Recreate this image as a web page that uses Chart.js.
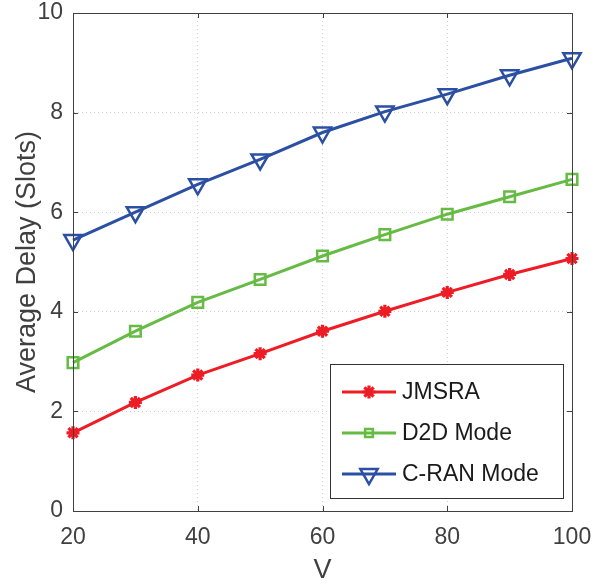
<!DOCTYPE html>
<html>
<head>
<meta charset="utf-8">
<script src="https://cdn.jsdelivr.net/npm/chart.js@4"></script>
<style>
  html, body { margin: 0; padding: 0; background: #fff; }
  #wrap { width: 611px; height: 584px; }
</style>
</head>
<body>
<div id="wrap"><canvas id="c" width="611" height="584"></canvas></div>
<script>
const V = [20, 30, 40, 50, 60, 70, 80, 90, 100];
const jmsra = [1.57, 2.18, 2.73, 3.16, 3.61, 4.01, 4.39, 4.75, 5.07];
const d2d = [2.98, 3.61, 4.19, 4.65, 5.12, 5.55, 5.96, 6.31, 6.66];
const cran = [5.44, 6.00, 6.56, 7.06, 7.60, 8.02, 8.37, 8.75, 9.09];
const seriesNames = ['JMSRA', 'D2D Mode', 'C-RAN Mode'];
const xTitle = 'V';
const yTitle = 'Average Delay (Slots)';

const FONT = "'Liberation Sans', Arial, Helvetica, sans-serif";
const AXIS_COLOR = '#404040';

function pts(ys) { return V.map((v, i) => ({ x: v, y: ys[i] })); }

const boxPlugin = {
  id: 'boxPlugin',
  afterDatasetsDraw(chart) {
    const ctx = chart.ctx;
    const a = chart.chartArea;
    const xs = chart.scales.x, ys = chart.scales.y;
    ctx.save();
    ctx.strokeStyle = AXIS_COLOR;
    ctx.lineWidth = 1;
    ctx.setLineDash([]);
    ctx.beginPath();
    ctx.moveTo(a.left + 0.5, a.top + 0.5);
    ctx.lineTo(a.right + 0.5, a.top + 0.5);
    ctx.lineTo(a.right + 0.5, a.bottom + 0.5);
    ctx.lineTo(a.left + 0.5, a.bottom + 0.5);
    ctx.closePath();
    ctx.stroke();
    const L = 5;
    ctx.beginPath();
    xs.ticks.forEach(t => {
      const px = Math.round(xs.getPixelForValue(t.value)) + 0.5;
      ctx.moveTo(px, a.bottom); ctx.lineTo(px, a.bottom - L);
      ctx.moveTo(px, a.top); ctx.lineTo(px, a.top + L);
    });
    ys.ticks.forEach(t => {
      const py = Math.round(ys.getPixelForValue(t.value)) + 0.5;
      ctx.moveTo(a.left, py); ctx.lineTo(a.left + L, py);
      ctx.moveTo(a.right, py); ctx.lineTo(a.right - L, py);
    });
    ctx.stroke();
    ctx.restore();
  },
  afterDraw(chart) {
    const ctx = chart.ctx;
    const a = chart.chartArea;
    const bx = 330, by = a.bottom - 147, bw = a.right - 9 - 330, bh = 134;
    ctx.save();
    ctx.fillStyle = '#fff';
    ctx.fillRect(bx, by, bw, bh);
    ctx.strokeStyle = '#333';
    ctx.lineWidth = 1;
    ctx.strokeRect(bx + 0.5, by + 0.5, bw, bh);
    const rowY = [by + 28, by + 69, by + 110];
    chart.data.datasets.forEach((ds, i) => {
      const y = rowY[i];
      ctx.strokeStyle = ds.borderColor;
      ctx.lineWidth = ds.borderWidth;
      ctx.beginPath();
      ctx.moveTo(bx + 12, y);
      ctx.lineTo(bx + 66, y);
      ctx.stroke();
      ctx.lineWidth = ds.pointBorderWidth;
      ctx.fillStyle = ds.pointBackgroundColor;
      Chart.helpers.drawPoint(ctx, {
        pointStyle: ds.pointStyle,
        rotation: ds.pointRotation || 0,
        radius: ds.legendRadius,
        borderWidth: ds.pointBorderWidth
      }, bx + 39, y);
      ctx.fillStyle = '#1a1a1a';
      ctx.font = '23px ' + FONT;
      ctx.textBaseline = 'middle';
      ctx.textAlign = 'left';
      ctx.fillText(ds.label, bx + 72, y + 1);
    });
    ctx.restore();
  }
};

const common = {
  fill: false,
  tension: 0,
  borderWidth: 3,
  pointBorderWidth: 2.5,
  pointBackgroundColor: 'rgba(0,0,0,0)',
  clip: false
};

new Chart(document.getElementById('c'), {
  type: 'line',
  data: {
    datasets: [
      Object.assign({}, common, {
        label: seriesNames[0], data: pts(jmsra),
        borderColor: '#ee1c25', pointBorderColor: '#ee1c25',
        pointStyle: 'star', pointRadius: 6.5, legendRadius: 6.5, pointBorderWidth: 3.2
      }),
      Object.assign({}, common, {
        label: seriesNames[1], data: pts(d2d),
        borderColor: '#66bb44', pointBorderColor: '#66bb44',
        pointStyle: 'rect', pointRadius: 7.5, legendRadius: 5.5
      }),
      Object.assign({}, common, {
        label: seriesNames[2], data: pts(cran),
        borderColor: '#2b4fa3', pointBorderColor: '#2b4fa3',
        pointStyle: 'triangle', pointRotation: 180, pointRadius: 10, legendRadius: 10
      })
    ]
  },
  options: {
    responsive: false,
    animation: false,
    devicePixelRatio: 1,
    layout: { autoPadding: false, padding: { top: 13, right: 39, left: 0, bottom: 0 } },
    plugins: { legend: { display: false }, tooltip: { enabled: false } },
    elements: { point: { hoverRadius: 6 } },
    scales: {
      x: {
        type: 'linear', min: 20, max: 100,
        afterFit(s) { s.height = 73; s.paddingLeft = 0; s.paddingRight = 0; },
        ticks: { stepSize: 20, color: AXIS_COLOR, padding: 15, font: { family: FONT, size: 23, lineHeight: 1 } },
        grid: { color: '#d0d0d0', lineWidth: 1, drawTicks: false },
        border: { display: true, color: AXIS_COLOR, width: 1, dash: [1, 3] },
        title: { display: true, text: xTitle, color: AXIS_COLOR, font: { family: FONT, size: 27, lineHeight: 1 }, padding: { top: 0, bottom: 0 } }
      },
      y: {
        type: 'linear', min: 0, max: 10,
        afterFit(s) { s.width = 73; s.paddingTop = 0; s.paddingBottom = 0; },
        ticks: { stepSize: 2, color: AXIS_COLOR, padding: 10, font: { family: FONT, size: 23, lineHeight: 1 } },
        grid: { color: '#d0d0d0', lineWidth: 1, drawTicks: false },
        border: { display: true, color: AXIS_COLOR, width: 1, dash: [1, 3] },
        title: { display: true, text: yTitle, color: AXIS_COLOR, font: { family: FONT, size: 27, lineHeight: 1 }, padding: { top: 14, bottom: 0 } }
      }
    }
  },
  plugins: [boxPlugin]
});
</script>
</body>
</html>
